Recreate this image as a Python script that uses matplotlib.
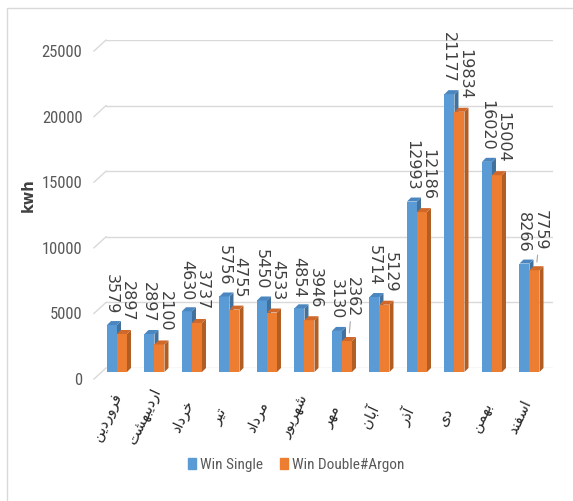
import unicodedata
import matplotlib
matplotlib.use("Agg")
import matplotlib.pyplot as plt
from matplotlib import font_manager as fm
from matplotlib.patches import Polygon, Rectangle, Patch
from matplotlib.transforms import ScaledTranslation

months = ["فروردین", "اردیبهشت", "خرداد", "تیر", "مرداد", "شهریور",
          "مهر", "آبان", "آذر", "دی", "بهمن", "اسفند"]
win_single = [3579, 2897, 4630, 5756, 5450, 4854, 3130, 5714, 12993, 21177, 16020, 8266]
win_double = [2897, 2100, 3737, 4755, 4533, 3946, 2362, 5129, 12186, 19834, 15004, 7759]
series_names = ["Win Single", "Win Double#Argon"]
yticks = [0, 5000, 10000, 15000, 20000, 25000]

# presentation forms: isolated, final, initial, medial
FORMS = {
    '\u0627': ('\uFE8D', '\uFE8E', None, None),
    '\u0622': ('\uFE81', '\uFE82', None, None),
    '\u0628': ('\uFE8F', '\uFE90', '\uFE91', '\uFE92'),
    '\u062A': ('\uFE95', '\uFE96', '\uFE97', '\uFE98'),
    '\u062E': ('\uFEA5', '\uFEA6', '\uFEA7', '\uFEA8'),
    '\u062F': ('\uFEA9', '\uFEAA', None, None),
    '\u0630': ('\uFEAB', '\uFEAC', None, None),
    '\u0631': ('\uFEAD', '\uFEAE', None, None),
    '\u0632': ('\uFEAF', '\uFEB0', None, None),
    '\u0633': ('\uFEB1', '\uFEB2', '\uFEB3', '\uFEB4'),
    '\u0634': ('\uFEB5', '\uFEB6', '\uFEB7', '\uFEB8'),
    '\u0641': ('\uFED1', '\uFED2', '\uFED3', '\uFED4'),
    '\u0645': ('\uFEE1', '\uFEE2', '\uFEE3', '\uFEE4'),
    '\u0646': ('\uFEE5', '\uFEE6', '\uFEE7', '\uFEE8'),
    '\u0647': ('\uFEE9', '\uFEEA', '\uFEEB', '\uFEEC'),
    '\u0648': ('\uFEED', '\uFEEE', None, None),
    '\u06CC': ('\uFBFC', '\uFBFD', '\uFBFE', '\uFBFF'),
    '\u064A': ('\uFBFC', '\uFBFD', '\uFBFE', '\uFBFF'),
}


def shape(word):
    # join persian letters and flip to visual order (no bidi lib here)
    word = unicodedata.normalize('NFC', word)
    out = []
    for k, ch in enumerate(word):
        iso, fin, ini, med = FORMS[ch]
        join_prev = k > 0 and FORMS[word[k - 1]][2] is not None
        join_next = ini is not None and k < len(word) - 1
        if join_prev and join_next:
            out.append(med)
        elif join_prev:
            out.append(fin)
        elif join_next:
            out.append(ini)
        else:
            out.append(iso)
    return ''.join(reversed(out))


# pick a narrow face for the axis/legend text
installed = {f.name for f in fm.fontManager.ttflist}
dejavu_cond = any(f.name == 'DejaVu Sans' and f.stretch == 'condensed' for f in fm.fontManager.ttflist)
if 'Liberation Sans Narrow' in installed:
    narrow = dict(family=['Liberation Sans Narrow'], stretch='normal', size=12)
elif 'Roboto Condensed' in installed:
    narrow = dict(family=['Roboto Condensed'], stretch='normal', size=12)
elif dejavu_cond:
    narrow = dict(family=['DejaVu Sans'], stretch='condensed', size=11.5)
else:
    narrow = dict(family=['Lato', 'DejaVu Sans'], stretch='normal', size=11.5)
grey = '#595959'

fig = plt.figure(figsize=(5.73, 5.01), dpi=100)
ax = fig.add_axes([0.18499, 0.26547, 0.78010, 0.65469])

xmin, xmax = -0.293, 11.627
ymax = 25000
ax.set_xlim(xmin, xmax)
ax.set_ylim(0, ymax)

# pixel -> data scale, used for the fake 3d depth
px_x = 447 / (xmax - xmin)
px_y = 328 / ymax
dx, dy = 4 / px_x, 4 / px_y
w = 10 / px_x

for s in ax.spines.values():
    s.set_visible(False)
ax.set_yticks(yticks)
ax.grid(axis='y', color='#D9D9D9', lw=1)
ax.set_axisbelow(True)
ax.tick_params(axis='y', length=0, pad=17, labelcolor=grey)
for lab in ax.get_yticklabels():
    lab.set_family(narrow['family'])
    lab.set_fontstretch(narrow['stretch'])
    lab.set_fontsize(narrow['size'])
    lab.set_transform(lab.get_transform() + ScaledTranslation(0, -0.11, fig.dpi_scale_trans))

# perspective stubs of the wall gridlines
for v in yticks:
    ax.plot([xmin, xmin - 12 / px_x], [v, v - 11 / px_y], color='#D9D9D9', lw=1, clip_on=False)

x = list(range(len(months)))
ax.set_xticks(x)
ax.set_xticklabels([shape(m) for m in months], rotation=65, ha='center', va='center',
                   rotation_mode='anchor', fontsize=10.5, color='#262626')
ax.tick_params(axis='x', length=0, pad=35)
for lab in ax.get_xticklabels():
    lab.set_transform(lab.get_transform() + ScaledTranslation(-0.10, 0, fig.dpi_scale_trans))

styles = [('#5B9BD5', '#41719C', '#4A86BF'), ('#ED7D31', '#B25E22', '#D0682A')]


def bars3d(lefts, heights, front, side, top):
    # front face sits one depth step below the wall, back edge meets the gridline value
    ax.bar(lefts, heights, width=w, bottom=-dy, align='edge', color=front, zorder=2, clip_on=False)
    for x0, h in zip(lefts, heights):
        ax.add_patch(Polygon([(x0 + w, -dy), (x0 + w + dx, 0), (x0 + w + dx, h), (x0 + w, h - dy)],
                             closed=True, fc=side, ec='none', zorder=2, clip_on=False))
        ax.add_patch(Polygon([(x0, h - dy), (x0 + dx, h), (x0 + w + dx, h), (x0 + w, h - dy)],
                             closed=True, fc=top, ec='none', zorder=2))


bars3d([i - w for i in x], win_single, *styles[0])
bars3d([i for i in x], win_double, *styles[1])

# value labels
leader = {6: 8, 11: 5}
for i in x:
    ax.annotate(str(win_single[i]), xy=(i - w / 2, win_single[i] - dy), xytext=(-0.5, 8),
                textcoords='offset points', rotation=-90, ha='center', va='bottom',
                fontsize=11.5, color='#404040', zorder=3)
    extra = leader.get(i, 0)
    kw = {}
    if extra:
        kw['arrowprops'] = dict(arrowstyle='-', color='#A6A6A6', lw=0.8, shrinkA=1, shrinkB=3)
    ax.annotate(str(win_double[i]), xy=(i + w / 2 + dx / 2, win_double[i]), xytext=(2.5, 6 + extra),
                textcoords='offset points', rotation=-90, ha='center', va='bottom',
                fontsize=11.5, color='#404040', zorder=3, **kw)

ax.set_ylabel('kwh', fontsize=10.5, fontweight='bold', color='#404040')
ax.yaxis.set_label_coords(-0.158, 0.527)

handles = [Patch(color=styles[0][0]), Patch(color=styles[1][0])]
fig.legend(handles, series_names, loc='center', bbox_to_anchor=(296 / 573, 1 - 465 / 501),
           ncol=2, frameon=False, handlelength=0.55, handleheight=0.75, handletextpad=0.25,
           columnspacing=1.1, labelcolor=grey,
           prop=fm.FontProperties(family=narrow['family'], stretch=narrow['stretch'], size=11))

fig.patches.append(Rectangle((7 / 573, -0.1), 1.1, 1 - 8 / 501 + 0.1, transform=fig.transFigure,
                             fill=False, ec='#D9D9D9', lw=1))

fig.savefig('out.png', dpi=100)
